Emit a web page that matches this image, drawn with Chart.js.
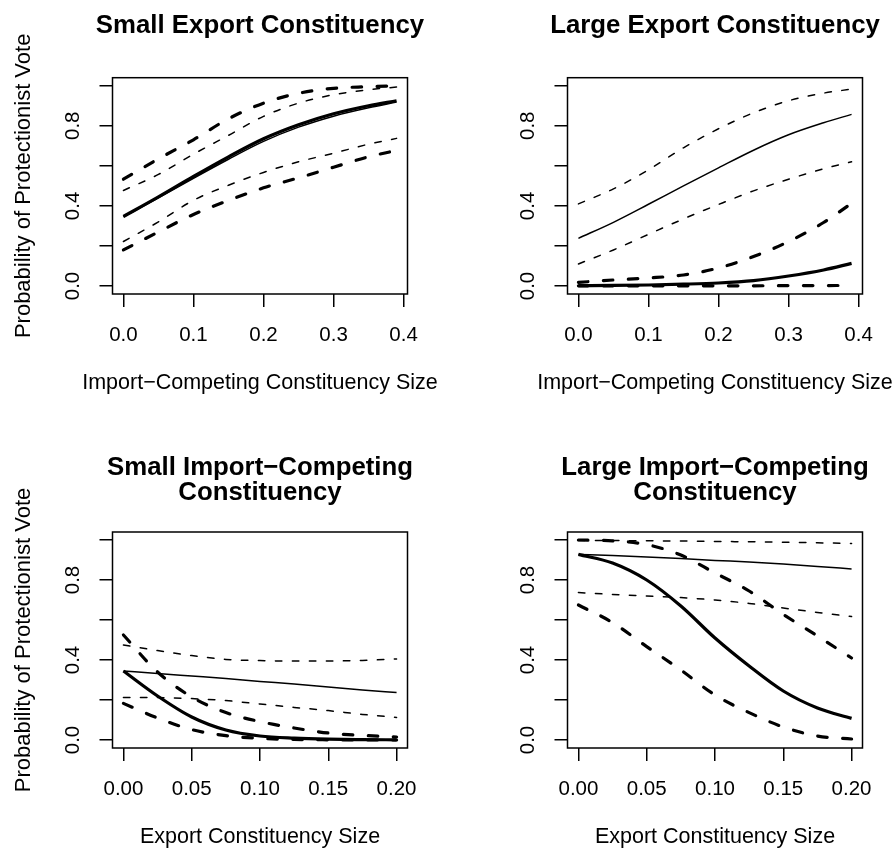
<!DOCTYPE html>
<html>
<head>
<meta charset="utf-8">
<script src="https://cdn.jsdelivr.net/npm/chart.js@4.4.0/dist/chart.umd.min.js"></script>
<style>
  html, body { margin: 0; padding: 0; background: #fff; }
  #wrap { position: relative; width: 896px; height: 850px; }
  canvas { position: absolute; }
</style>
</head>
<body>
<div id="wrap">
  <canvas id="p1" width="448" height="425" style="left:0;top:0"></canvas>
  <canvas id="p2" width="448" height="425" style="left:448px;top:0"></canvas>
  <canvas id="p3" width="448" height="425" style="left:0;top:425px"></canvas>
  <canvas id="p4" width="448" height="425" style="left:448px;top:425px"></canvas>
</div>
<script>
const xImport = [0, 0.05, 0.1, 0.15, 0.2, 0.25, 0.3, 0.35, 0.39];
const xExport = [0, 0.025, 0.05, 0.075, 0.1, 0.125, 0.15, 0.175, 0.2];

// ticks
const yTicks = [0, 0.2, 0.4, 0.6, 0.8, 1.0];
const yTickLabels = ["0.0", "", "0.4", "", "0.8", ""];
const xTicksImport = [0, 0.1, 0.2, 0.3, 0.4];
const xTickLabelsImport = ["0.0", "0.1", "0.2", "0.3", "0.4"];
const xTicksExport = [0, 0.05, 0.1, 0.15, 0.2];
const xTickLabelsExport = ["0.00", "0.05", "0.10", "0.15", "0.20"];

// panel 1: Small Export Constituency
const p1ThinMid  = [0.345, 0.44, 0.538, 0.633, 0.722, 0.793, 0.848, 0.89, 0.918];
const p1ThinHi   = [0.477, 0.557, 0.658, 0.752, 0.847, 0.913, 0.955, 0.98, 0.993];
const p1ThinLo   = [0.222, 0.32, 0.428, 0.503, 0.567, 0.62, 0.663, 0.708, 0.737];
const p1ThickMid = [0.347, 0.445, 0.547, 0.645, 0.735, 0.805, 0.86, 0.9, 0.925];
const p1ThickHi  = [0.533, 0.635, 0.73, 0.835, 0.913, 0.962, 0.987, 0.995, 1.0];
const p1ThickLo  = [0.18, 0.27, 0.357, 0.427, 0.49, 0.54, 0.593, 0.645, 0.677];

// panel 2: Large Export Constituency
const p2ThinMid  = [0.238, 0.318, 0.408, 0.5, 0.59, 0.678, 0.755, 0.815, 0.857];
const p2ThinHi   = [0.41, 0.485, 0.58, 0.69, 0.785, 0.865, 0.925, 0.963, 0.983];
const p2ThinLo   = [0.11, 0.18, 0.258, 0.335, 0.407, 0.475, 0.533, 0.585, 0.62];
const p2ThickMid = [0.002, 0.003, 0.005, 0.009, 0.015, 0.027, 0.05, 0.08, 0.113];
const p2ThickHi  = [0.018, 0.03, 0.04, 0.055, 0.09, 0.147, 0.222, 0.317, 0.413];
const p2ThickLo  = [0.001, 0.001, 0.001, 0.001, 0.001, 0.001, 0.002, 0.002, 0.003];

// panel 3: Small Import-Competing Constituency
const p3ThinMid  = [0.345, 0.333, 0.32, 0.307, 0.293, 0.28, 0.265, 0.25, 0.237];
const p3ThinHi   = [0.475, 0.447, 0.422, 0.403, 0.397, 0.395, 0.395, 0.398, 0.405];
const p3ThinLo   = [0.212, 0.212, 0.207, 0.197, 0.18, 0.163, 0.147, 0.128, 0.113];
const p3ThickMid = [0.345, 0.22, 0.115, 0.05, 0.02, 0.009, 0.004, 0.002, 0.001];
const p3ThickHi  = [0.525, 0.34, 0.215, 0.137, 0.092, 0.06, 0.035, 0.023, 0.015];
const p3ThickLo  = [0.183, 0.11, 0.052, 0.022, 0.008, 0.003, 0.001, 0.0, 0.0];

// panel 4: Large Import-Competing Constituency
const p4ThinMid  = [0.928, 0.922, 0.915, 0.907, 0.898, 0.89, 0.88, 0.868, 0.855];
const p4ThinHi   = [0.997, 0.997, 0.996, 0.995, 0.993, 0.991, 0.989, 0.986, 0.983];
const p4ThinLo   = [0.737, 0.728, 0.72, 0.712, 0.7, 0.683, 0.66, 0.638, 0.617];
const p4ThickMid = [0.928, 0.885, 0.8, 0.67, 0.51, 0.37, 0.245, 0.16, 0.108];
const p4ThickHi  = [1.0, 0.996, 0.977, 0.925, 0.835, 0.745, 0.628, 0.52, 0.41];
const p4ThickLo  = [0.675, 0.587, 0.467, 0.35, 0.225, 0.137, 0.065, 0.02, 0.005];

const FONT = '"Liberation Sans", Arial, Helvetica, sans-serif';
const CW = 448, CH = 425;

function pts(xs, ys) {
  return xs.map((x, i) => ({ x: x, y: ys[i] }));
}

function line(xs, ys, thick, dashed) {
  return {
    data: pts(xs, ys),
    borderColor: "#000",
    borderWidth: thick ? 3.2 : 1.5,
    borderDash: dashed ? (thick ? [9.5, 15.5] : [6.5, 10.5]) : [],
    borderCapStyle: dashed ? "round" : "butt",
    cubicInterpolationMode: "monotone",
    pointRadius: 0,
    fill: false,
  };
}

// box + titles, drawn around the chart area
const framePlugin = {
  id: "frame",
  afterDraw(chart, args, o) {
    const { ctx, chartArea: a } = chart;
    const cx = (a.left + a.right) / 2;
    ctx.save();
    ctx.strokeStyle = "#000";
    ctx.lineWidth = 1.5;
    ctx.strokeRect(a.left, a.top, a.right - a.left, a.bottom - a.top);
    ctx.fillStyle = "#000";
    ctx.textAlign = "center";
    ctx.textBaseline = "alphabetic";
    ctx.font = "bold 25.8px " + FONT;
    o.title.forEach((t, i) => ctx.fillText(t, cx, o.titleY[i]));
    ctx.font = "21.5px " + FONT;
    ctx.fillText(o.xTitle, cx, a.bottom + 95);
    if (o.yTitle) {
      ctx.font = "22px " + FONT;
      ctx.translate(30, (a.top + a.bottom) / 2);
      ctx.rotate(-Math.PI / 2);
      ctx.fillText(o.yTitle, 0, 0);
    }
    ctx.restore();
  },
};

function makePanel(id, p) {
  const ds = [
    line(p.xs, p.s[0], false, false),
    line(p.xs, p.s[1], false, true),
    line(p.xs, p.s[2], false, true),
    line(p.xs, p.s[3], true, false),
    line(p.xs, p.s[4], true, true),
    line(p.xs, p.s[5], true, true),
  ];
  const tickFont = { family: FONT, size: 20.5 };
  const grid = { display: true, drawOnChartArea: false, drawTicks: true, tickLength: 13, color: "#000", lineWidth: 1.5 };
  return new Chart(document.getElementById(id), {
    type: "line",
    data: { datasets: ds },
    plugins: [framePlugin],
    options: {
      responsive: false,
      animation: false,
      events: [],
      layout: { padding: { left: 0, top: p.area.top, right: CW - p.area.right, bottom: 0 } },
      plugins: {
        legend: { display: false },
        tooltip: { enabled: false },
        frame: { title: p.title, titleY: p.titleY, xTitle: p.xTitle, yTitle: p.yTitle },
      },
      scales: {
        x: {
          type: "linear",
          min: p.xMin,
          max: p.xMax,
          bounds: "data",
          afterBuildTicks: (s) => { s.ticks = p.xTicks.map((v) => ({ value: v })); },
          afterFit: (s) => { s.height = CH - p.area.bottom; },
          ticks: {
            autoSkip: false, maxRotation: 0, minRotation: 0, padding: 16,
            color: "#000", font: tickFont,
            callback: (v, i) => p.xLabels[i],
          },
          grid: grid,
          border: { display: false },
        },
        y: {
          type: "linear",
          min: -0.04,
          max: 1.04,
          bounds: "data",
          afterBuildTicks: (s) => { s.ticks = yTicks.map((v) => ({ value: v })); },
          afterFit: (s) => { s.width = p.area.left; },
          ticks: {
            autoSkip: false, minRotation: 90, maxRotation: 90, crossAlign: "center", padding: 11.5,
            color: "#000", font: tickFont,
            callback: (v, i) => yTickLabels[i],
          },
          grid: grid,
          border: { display: false },
        },
      },
    },
  });
}

const ylab = "Probability of Protectionist Vote";
const xlabImport = "Import\u2212Competing Constituency Size";
const xlabExport = "Export Constituency Size";

makePanel("p1", {
  xs: xImport, s: [p1ThinMid, p1ThinHi, p1ThinLo, p1ThickMid, p1ThickHi, p1ThickLo],
  xTicks: xTicksImport, xLabels: xTickLabelsImport, xMin: -0.0156, xMax: 0.4056,
  area: { left: 112.5, top: 77.7, right: 407.5, bottom: 294 },
  title: ["Small Export Constituency"], titleY: [33], xTitle: xlabImport, yTitle: ylab,
});
makePanel("p2", {
  xs: xImport, s: [p2ThinMid, p2ThinHi, p2ThinLo, p2ThickMid, p2ThickHi, p2ThickLo],
  xTicks: xTicksImport, xLabels: xTickLabelsImport, xMin: -0.0156, xMax: 0.4056,
  area: { left: 119.5, top: 77.7, right: 414.5, bottom: 294 },
  title: ["Large Export Constituency"], titleY: [33], xTitle: xlabImport, yTitle: null,
});
makePanel("p3", {
  xs: xExport, s: [p3ThinMid, p3ThinHi, p3ThinLo, p3ThickMid, p3ThickHi, p3ThickLo],
  xTicks: xTicksExport, xLabels: xTickLabelsExport, xMin: -0.008, xMax: 0.208,
  area: { left: 112.5, top: 107, right: 407.5, bottom: 323 },
  title: ["Small Import\u2212Competing", "Constituency"], titleY: [49.5, 75], xTitle: xlabExport, yTitle: ylab,
});
makePanel("p4", {
  xs: xExport, s: [p4ThinMid, p4ThinHi, p4ThinLo, p4ThickMid, p4ThickHi, p4ThickLo],
  xTicks: xTicksExport, xLabels: xTickLabelsExport, xMin: -0.008, xMax: 0.208,
  area: { left: 119.5, top: 107, right: 414.5, bottom: 323 },
  title: ["Large Import\u2212Competing", "Constituency"], titleY: [49.5, 75], xTitle: xlabExport, yTitle: null,
});
</script>
</body>
</html>
